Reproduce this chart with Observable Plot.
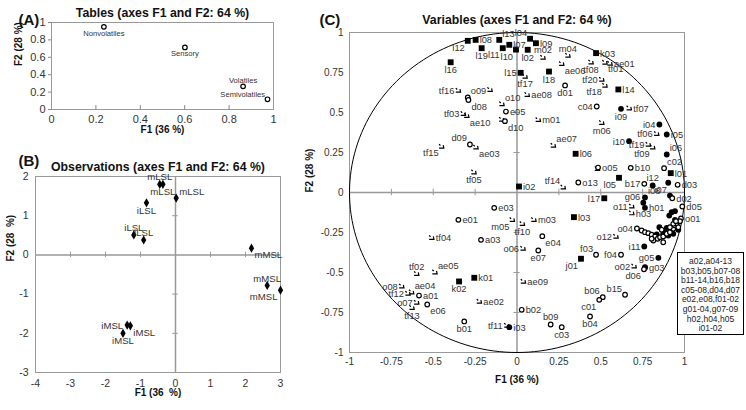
<!DOCTYPE html>
<html><head><meta charset="utf-8">
<script src="https://cdn.jsdelivr.net/npm/d3@7"></script>
<script src="https://cdn.jsdelivr.net/npm/@observablehq/plot@0.6"></script>
<style>
body{margin:0;background:#fff;font-family:"Liberation Sans",Arial,sans-serif;}
#root{position:relative;width:746px;height:410px;overflow:hidden;background:#fff;}
.panel{position:absolute;}
#legendBox{position:absolute;left:677px;top:252px;width:67px;height:83px;border:1px solid #000;background:#fff;font-size:8.5px;line-height:9.6px;text-align:center;color:#222;box-sizing:border-box;padding-top:4px;}
</style></head><body><div id="root"></div>
<script>
// ---------- Panel A: tables ----------
const tableNames = ["Nonvolatiles","Sensory","Volatiles","Semivolatiles"];
const tableF1 = [0.236,0.601,0.863,0.973];
const tableF2 = [0.95,0.714,0.266,0.117];
const tableSide = ["b","b","t","tl"];
const ticksA = [0,0.2,0.4,0.6,0.8,1];

// ---------- Panel B: observations ----------
const obsNames = ["mLSL","mLSL","mLSL","iLSL","iLSL","iLSL","mMSL","mMSL","mMSL","iMSL","iMSL","iMSL"];
const obsF1 = [-0.45,-0.36,0.02,-0.83,-1.19,-0.91,2.17,2.62,3.0,-1.38,-1.29,-1.5];
const obsF2 = [1.80,1.80,1.45,1.33,0.51,0.38,0.17,-0.78,-0.90,-1.79,-1.81,-2.0];
const obsSide = ["t","b","tr","b","t","t","br","t","bl","l","br","b"];
const ticksBx = [-4,-3,-2,-1,0,1,2,3];
const ticksBy = [-3,-2,-1,0,1,2];

// ---------- Panel C: variables [name, F1, F2, label side] ----------
const squares = [
 ["l12",-0.294,0.948,"bl"],["l08",-0.247,0.954,"r"],["l19",-0.211,0.902,"b"],["l13",-0.106,0.954,"tr"],
 ["l11",-0.085,0.902,"bl"],["l07",-0.046,0.923,"r"],["l10",-0.006,0.893,"bl"],["l02",0.064,0.892,"b"],
 ["l16",-0.396,0.814,"b"],["l15",0.022,0.748,"l"],["l04",0.078,0.961,"tl"],["l09",0.113,0.933,"r"],
 ["k03",0.472,0.871,"r"],["l18",0.191,0.756,"b"],["l14",0.605,0.644,"r"],["l06",0.350,0.242,"r"],
 ["l01",0.918,0.121,"r"],["l05",0.609,0.092,"bl"],["i02",0.012,0.0375,"r"],["l17",0.521,-0.036,"l"],
 ["l03",0.340,-0.154,"r"],["k02",-0.346,-0.556,"b"],["k01",-0.255,-0.533,"r"],["j01",0.382,-0.414,"bl"]
];
const filledCircles = [
 ["i09",0.621,0.523,"b"],["i04",0.850,0.425,"l"],["i05",0.894,0.3625,"r"],["i10",0.669,0.321,"l"],
 ["i06",0.894,0.2375,"tr"],["i12",0.81,0.044,"t"],["i08",0.764,-0.031,"tr"],["i07",0.913,-0.019,"tl"],
 ["g06",0.754,-0.064,"tl"],["h01",0.764,-0.096,"r"],["i11",0.760,-0.3375,"l"],["g05",0.844,-0.408,"l"],
 ["g03",0.764,-0.47,"r"],["i03",-0.046,-0.842,"r"]
];
const openCircles = [
 ["d01",0.287,0.669,"b"],["c04",0.476,0.5375,"l"],["o09",-0.294,0.594,"tr"],["d08",-0.29,0.578,"br"],
 ["e05",-0.066,0.506,"r"],["d10",-0.072,0.446,"br"],["o05",0.484,0.156,"r"],["b10",0.679,0.154,"r"],
 ["c02",0.878,0.152,"tr"],["o13",0.366,0.0625,"r"],["b17",0.76,0.054,"l"],["d03",0.959,0.048,"r"],
 ["d02",0.927,-0.036,"r"],["d05",0.987,-0.0875,"r"],["o01",0.979,-0.1625,"r"],["o04",0.716,-0.225,"l"],
 ["e03",-0.136,-0.096,"r"],["e01",-0.350,-0.171,"r"],["a03",-0.215,-0.296,"r"],["a01",-0.585,-0.644,"r"],
 ["e06",-0.536,-0.70,"br"],["b01",-0.315,-0.806,"b"],["b02",0.028,-0.733,"r"],["e04",0.151,-0.273,"br"],
 ["e07",0.127,-0.3625,"b"],["f03",0.472,-0.389,"tl"],["f04",0.621,-0.389,"l"],["d06",0.758,-0.48,"bl"],
 ["b06",0.512,-0.654,"tl"],["c01",0.491,-0.671,"bl"],["b15",0.645,-0.639,"tl"],["b04",0.436,-0.775,"b"],
 ["b09",0.201,-0.825,"t"],["c03",0.267,-0.842,"b"],["d09",-0.281,0.30,"tl"]
];
const arrows = [
 ["m02",0.155,0.844,"t"],["m04",0.304,0.856,"t"],["tf01",0.525,0.8125,"br"],["ae01",0.555,0.806,"r"],
 ["ae06",0.267,0.804,"br"],["tf08",0.442,0.814,"b"],["tf17",0.048,0.725,"b"],["tf20",0.506,0.706,"l"],
 ["tf18",0.525,0.669,"bl"],["ae08",0.061,0.611,"r"],["tf07",0.670,0.527,"r"],["m01",0.127,0.454,"r"],
 ["m06",0.506,0.436,"b"],["tf16",-0.350,0.6375,"l"],["o10",-0.09,0.553,"tr"],["tf03",-0.32,0.492,"l"],
 ["ae10",-0.30,0.48,"br"],["tf06",0.834,0.367,"l"],["tf19",0.784,0.30,"l"],["tf09",0.81,0.283,"bl"],
 ["ae07",0.217,0.294,"tr"],["tf14",0.276,0.033,"tl"],["o11",0.685,-0.086,"l"],["h03",0.685,-0.129,"r"],
 ["tf15",-0.450,0.2875,"bl"],["ae03",-0.245,0.283,"br"],["tf05",-0.257,0.127,"b"],["m05",-0.028,-0.171,"bl"],
 ["tf10",0.032,-0.196,"b"],["m03",0.101,-0.171,"r"],["tf04",-0.509,-0.283,"r"],["o06",0.036,-0.35,"l"],
 ["tf02",-0.599,-0.508,"t"],["ae05",-0.490,-0.498,"tr"],["o08",-0.688,-0.586,"l"],["tf12",-0.651,-0.631,"l"],
 ["ae04",-0.629,-0.623,"tr"],["o07",-0.599,-0.6875,"l"],["tf13",-0.627,-0.72,"b"],["ae02",-0.225,-0.681,"r"],
 ["tf11",-0.061,-0.831,"l"],["ae09",0.038,-0.556,"r"],["o12",0.591,-0.275,"l"],["o02",0.699,-0.461,"l"]
];
// unlabeled points of the dense cluster (listed in the box)
const clusterFilled = [[0.903,0.061],[0.923,-0.123],[0.909,-0.144],[0.85,-0.217],[0.894,-0.221],[0.923,-0.2375],
 [0.933,-0.258],[0.884,-0.248],[0.903,-0.269],[0.873,-0.258],[0.963,-0.233],[0.943,-0.171],[0.834,-0.2625],[0.943,-0.117],[0.764,-0.466]];
const clusterOpen = [[0.744,-0.2375],[0.764,-0.248],[0.784,-0.254],[0.804,-0.264],[0.824,-0.275],[0.814,-0.30],
 [0.840,-0.289],[0.854,-0.279],[0.873,-0.275],[0.894,-0.258],[0.913,-0.248],[0.933,-0.227],[0.943,-0.206],
 [0.953,-0.196],[0.973,-0.179],[0.963,-0.217],[0.873,-0.311],[0.864,-0.233],[0.913,-0.217],[0.933,-0.196],
 [0.949,-0.179],[0.804,-0.289]];
const extraArrows = [[-0.161,0.642],[-0.091,0.456],[0.48,0.148]];
const boxLines = ["a02,a04-13","b03,b05,b07-08","b11-14,b16,b18","c05-08,d04,d07","e02,e08,f01-02","g01-04,g07-09","h02,h04,h05","i01-02"];
const ticksC = [-1,-0.75,-0.5,-0.25,0,0.25,0.5,0.75,1];

// ---------- helpers ----------
const rows = (names, xs, ys, sides) => names.map((n,i)=>({name:n,x:xs[i],y:ys[i],side:sides[i]}));
const toRows = arr => arr.map(([name,x,y,side])=>({name,x,y,side}));
const pts = arr => arr.map(([x,y])=>({x,y}));
const sideOpts = {
  t:{dx:0,dy:-7,textAnchor:"middle"}, b:{dx:0,dy:8,textAnchor:"middle"},
  r:{dx:4,dy:0.5,textAnchor:"start"}, l:{dx:-4,dy:0.5,textAnchor:"end"},
  tr:{dx:3,dy:-6,textAnchor:"start"}, tl:{dx:-3,dy:-6,textAnchor:"end"},
  br:{dx:3,dy:7,textAnchor:"start"}, bl:{dx:-3,dy:7,textAnchor:"end"}
};
function labels(data, fontSize, k=1){
  return Object.entries(sideOpts).map(([s,o])=>Plot.text(data.filter(d=>d.side===s),
    {x:"x",y:"y",text:"name",dx:o.dx*k,dy:o.dy*k,textAnchor:o.textAnchor,fontSize,fill:"#333"}));
}
const arrowSymbol = {draw(ctx){ ctx.moveTo(-2.6,-2.4); ctx.lineTo(-1.2,-1); ctx.moveTo(-2.6,1.6); ctx.lineTo(2.2,1.6); ctx.lineTo(1.6,-1.4); }};
const baseStyle = {fontFamily:'"Liberation Sans", Arial, sans-serif', fontSize:"10px", color:"#222", background:"transparent", overflow:"visible"};
const title = (t, dy) => Plot.text([t],{text:d=>d,frameAnchor:"top",dy,fontWeight:"bold",fontSize:12.3,fill:"#111"});
const tag = (t, dx, dy) => Plot.text([t],{text:d=>d,frameAnchor:"top-left",dx,dy,fontWeight:"bold",fontSize:15,fill:"#111"});
const xLab = (t, dy) => Plot.text([t],{text:d=>d,frameAnchor:"bottom",dy,fontWeight:"bold",fontSize:10,fill:"#111"});
const yLab = (t, dx, dy=0) => Plot.text([t],{text:d=>d,frameAnchor:"left",dx,dy,rotate:-90,fontWeight:"bold",fontSize:10,fill:"#111"});
const root = document.getElementById("root");
function place(svg, left, top){ svg.classList.add("panel"); svg.style.left=left+"px"; svg.style.top=top+"px"; root.appendChild(svg); }

// ---------- Panel A ----------
const dataA = rows(tableNames, tableF1, tableF2, tableSide);
const plotA = Plot.plot({
  width:300, height:140, marginLeft:51, marginRight:27, marginTop:22, marginBottom:31,
  style:baseStyle,
  x:{domain:[0,1], axis:null}, y:{domain:[0,1], axis:null},
  marks:[
    Plot.frame({stroke:"#999"}),
    Plot.ruleX(ticksA.slice(1,-1), {x:d=>d, y1:-0.01, y2:0.045, stroke:"#888"}),
    Plot.axisY({ticks:ticksA, tickSize:3, tickPadding:3, tickFormat:d=>String(d), label:null, fontSize:11, stroke:"#888", color:"#333"}),
    Plot.axisX({ticks:ticksA, tickSize:0, tickPadding:6, tickFormat:d=>String(d), label:null, fontSize:11, color:"#333"}),
    Plot.dot(dataA, {x:"x", y:"y", r:2.3, fill:"white", stroke:"black", strokeWidth:1.2}),
    ...labels(dataA, 7.6, 0.8),
    title("Tables (axes F1 and F2: 64 %)", -14),
    tag("(A)", -33, -8),
    xLab("F1 (36 %)", 23),
    yLab("F2 (28 %)", -33)
  ]
});
place(plotA, 0, 0);

// ---------- Panel B ----------
const dataB = rows(obsNames, obsF1, obsF2, obsSide);
const plotB = Plot.plot({
  width:300, height:270, marginLeft:35, marginRight:20, marginTop:36, marginBottom:38,
  style:baseStyle,
  x:{domain:[-4,3], axis:null}, y:{domain:[-3,2], axis:null},
  marks:[
    Plot.frame({stroke:"#999"}),
    Plot.ruleX([0], {stroke:"#999", strokeWidth:1.5}),
    Plot.ruleY([0], {stroke:"#999", strokeWidth:1.5}),
    Plot.ruleX(ticksBx.filter(d=>d!==0), {x:d=>d, y1:-0.07, y2:0.07, stroke:"#999"}),
    Plot.ruleY(ticksBy.filter(d=>d!==0), {y:d=>d, x1:-0.08, x2:0.08, stroke:"#999"}),
    Plot.axisY({ticks:ticksBy, tickSize:0, tickPadding:7, tickFormat:d=>String(d), label:null, fontSize:10.5, color:"#333"}),
    Plot.axisX({ticks:ticksBx, tickSize:0, tickPadding:7.5, tickFormat:d=>String(d), label:null, fontSize:10.5, color:"#333"}),
    Plot.dot(dataB, {x:"x", y:"y", r:2.8, symbol:"diamond", fill:"black"}),
    ...labels(dataB, 9.6, 1),
    title("Observations (axes F1 and F2: 64 %)", -14),
    tag("(B)", -17, -21),
    xLab("F1 (36  %)", 23),
    yLab("F2 (28  %)", -25, -13)
  ]
});
place(plotB, 0, 140);

// ---------- Panel C ----------
const sqRows = toRows(squares), fcRows = toRows(filledCircles), ocRows = toRows(openCircles), arRows = toRows(arrows);
const circle = d3.range(0, 361, 2).map(a=>({x:Math.cos(a*Math.PI/180), y:Math.sin(a*Math.PI/180)}));
const plotC = Plot.plot({
  width:446, height:410, marginLeft:49, marginRight:62, marginTop:32, marginBottom:58,
  style:baseStyle,
  x:{domain:[-1,1], axis:null}, y:{domain:[-1,1], axis:null},
  marks:[
    Plot.frame({stroke:"#999"}),
    Plot.ruleX([0], {stroke:"#999", strokeWidth:1.5}),
    Plot.ruleY([0], {stroke:"#999", strokeWidth:1.5}),
    Plot.ruleX(ticksC.filter(d=>d!==0 && Math.abs(d)!==1), {x:d=>d, y1:-0.02, y2:0.02, stroke:"#999"}),
    Plot.ruleY(ticksC.filter(d=>d!==0 && Math.abs(d)!==1), {y:d=>d, x1:-0.018, x2:0.018, stroke:"#999"}),
    Plot.axisY({ticks:ticksC, tickSize:0, tickPadding:6, tickFormat:d=>String(d), label:null, fontSize:10, color:"#333"}),
    Plot.axisX({ticks:ticksC, tickSize:0, tickPadding:5, tickFormat:d=>String(d), label:null, fontSize:10, color:"#333"}),
    Plot.line(circle, {x:"x", y:"y", stroke:"black", strokeWidth:1}),
    Plot.dot(arRows, {x:"x", y:"y", symbol:arrowSymbol, fill:"none", stroke:"black", strokeWidth:1.2}),
    Plot.dot(pts(extraArrows), {x:"x", y:"y", symbol:arrowSymbol, fill:"none", stroke:"black", strokeWidth:1.2}),
    Plot.dot(sqRows, {x:"x", y:"y", symbol:"square", r:3.3, fill:"black"}),
    Plot.dot(fcRows, {x:"x", y:"y", r:2.9, fill:"black"}),
    Plot.dot(pts(clusterFilled), {x:"x", y:"y", r:2.9, fill:"black"}),
    Plot.dot(ocRows, {x:"x", y:"y", r:2.3, fill:"white", stroke:"black", strokeWidth:1.2}),
    Plot.dot(pts(clusterOpen), {x:"x", y:"y", r:2.3, fill:"white", stroke:"black", strokeWidth:1.2}),
    ...labels([...sqRows, ...fcRows, ...ocRows, ...arRows], 9.3, 1),
    title("Variables (axes F1 and F2: 64 %)", -17),
    tag("(C)", -30, -18),
    xLab("F1 (36 %)", 30),
    yLab("F2 (28 %)", -40)
  ]
});
place(plotC, 300, 0);

// ---------- legend box ----------
const box = document.createElement("div");
box.id = "legendBox";
boxLines.forEach(t=>{ const d=document.createElement("div"); d.textContent=t; box.appendChild(d); });
root.appendChild(box);
</script></body></html>
